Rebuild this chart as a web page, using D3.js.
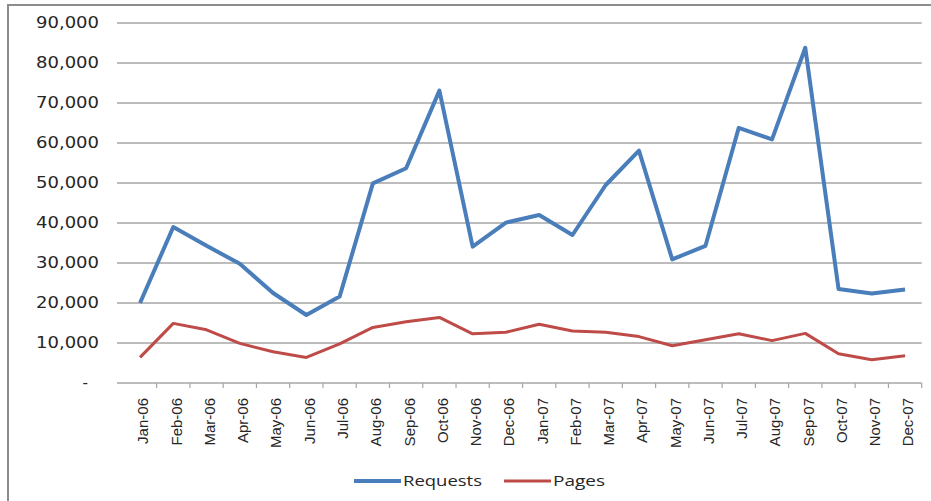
<!DOCTYPE html>
<html lang="en">
<head>
<meta charset="utf-8">
<title>Requests and Pages</title>
<script src="https://d3js.org/d3.v7.min.js"></script>
<style>
body { margin: 0; background: #fff; }
svg { display: block; }
</style>
</head>
<body>
<div id="chart"></div>
<script>
// data
var months = ["Jan-06","Feb-06","Mar-06","Apr-06","May-06","Jun-06","Jul-06","Aug-06","Sep-06","Oct-06","Nov-06","Dec-06",
              "Jan-07","Feb-07","Mar-07","Apr-07","May-07","Jun-07","Jul-07","Aug-07","Sep-07","Oct-07","Nov-07","Dec-07"];
var requests = [20000,39000,34300,29800,22500,17000,21600,49900,53700,73100,34100,40100,
                42000,37000,49500,58100,30900,34300,63800,60900,83800,23500,22400,23400];
var pages = [6400,14900,13300,9900,7800,6400,9800,13900,15300,16400,12300,12700,
             14700,13000,12700,11600,9300,10800,12300,10600,12400,7300,5800,6800];
var yTicks = [0,10000,20000,30000,40000,50000,60000,70000,80000,90000];
var seriesNames = ["Requests","Pages"];
var colors = ["#4a7ebb","#be4b48"];

var W = 931, H = 501;
var plot = {left: 123.4, right: 921.7, top: 23, bottom: 383};

var svg = d3.select("#chart").append("svg")
    .attr("width", W)
    .attr("height", H);

// chart border (only top and left are inside the picture)
svg.append("rect")
    .attr("x", 8).attr("y", 5)
    .attr("width", W + 20).attr("height", H + 20)
    .attr("fill", "none")
    .attr("stroke", "#8c8c8c")
    .attr("stroke-width", 2);

var x = d3.scaleBand()
    .domain(months)
    .range([plot.left, plot.right]);

var y = d3.scaleLinear()
    .domain([0, 90000])
    .range([plot.bottom, plot.top]);

// gridlines
svg.append("g")
  .selectAll("line")
  .data(yTicks.slice(1))
  .enter().append("line")
    .attr("x1", 117).attr("x2", plot.right)
    .attr("y1", function(d) { return y(d); })
    .attr("y2", function(d) { return y(d); })
    .attr("stroke", "#a6a6a6")
    .attr("stroke-width", 1.4);

// y labels
var fmt = d3.format(",");
svg.append("g")
  .selectAll("text")
  .data(yTicks)
  .enter().append("text")
    .attr("x", function(d) { return d === 0 ? 88 : 99; })
    .attr("y", function(d) { return y(d); })
    .attr("dy", "0.36em")
    .attr("text-anchor", "end")
    .attr("font-family", "DejaVu Sans, Verdana, sans-serif")
    .attr("font-size", 15)
    .attr("fill", "#262626")
    .attr("textLength", function(d) { return d === 0 ? null : 63; })
    .attr("lengthAdjust", "spacingAndGlyphs")
    .text(function(d) { return d === 0 ? "-" : fmt(d); });

// x axis
var xAxis = svg.append("g")
    .attr("transform", "translate(0," + plot.bottom + ")");
xAxis.append("line")
    .attr("x1", 117).attr("x2", plot.right)
    .attr("stroke", "#a6a6a6")
    .attr("stroke-width", 1.4);
xAxis.selectAll(".tick")
  .data(months.slice(1).concat(["end"]))
  .enter().append("line")
    .attr("class", "tick")
    .attr("x1", function(d, i) { return plot.left + (i + 1) * x.bandwidth(); })
    .attr("x2", function(d, i) { return plot.left + (i + 1) * x.bandwidth(); })
    .attr("y1", 0).attr("y2", 5)
    .attr("stroke", "#a6a6a6")
    .attr("stroke-width", 1.2);
xAxis.selectAll(".lbl")
  .data(months)
  .enter().append("text")
    .attr("class", "lbl")
    .attr("transform", function(d) {
      return "translate(" + (x(d) + x.bandwidth() / 2 + 3) + ",15) rotate(-90)";
    })
    .attr("dy", "0.36em")
    .attr("text-anchor", "end")
    .attr("font-family", "Liberation Sans, Arial, sans-serif")
    .attr("font-size", 15)
    .attr("fill", "#262626")
    .text(function(d) { return d; });

// lines
var line = d3.line()
    .x(function(d, i) { return x(months[i]) + x.bandwidth() / 2; })
    .y(function(d) { return y(d); });

[requests, pages].forEach(function(s, k) {
  svg.append("path")
    .datum(s)
    .attr("d", line)
    .attr("fill", "none")
    .attr("stroke", colors[k])
    .attr("stroke-width", k === 0 ? 4 : 3)
    .attr("stroke-linejoin", "round");
});

// legend
var legX = [354, 504];
seriesNames.forEach(function(n, k) {
  var g = svg.append("g").attr("transform", "translate(" + legX[k] + ",481)");
  g.append("line")
    .attr("x1", 0).attr("x2", 47)
    .attr("stroke", colors[k])
    .attr("stroke-width", k === 0 ? 4 : 3);
  g.append("text")
    .attr("x", 49)
    .attr("dy", "0.36em")
    .attr("font-family", "Open Sans, Calibri, sans-serif")
    .attr("font-size", 15)
    .attr("fill", "#262626")
    .attr("textLength", k === 0 ? 79 : 52)
    .attr("lengthAdjust", "spacingAndGlyphs")
    .text(n);
});
</script>
</body>
</html>
